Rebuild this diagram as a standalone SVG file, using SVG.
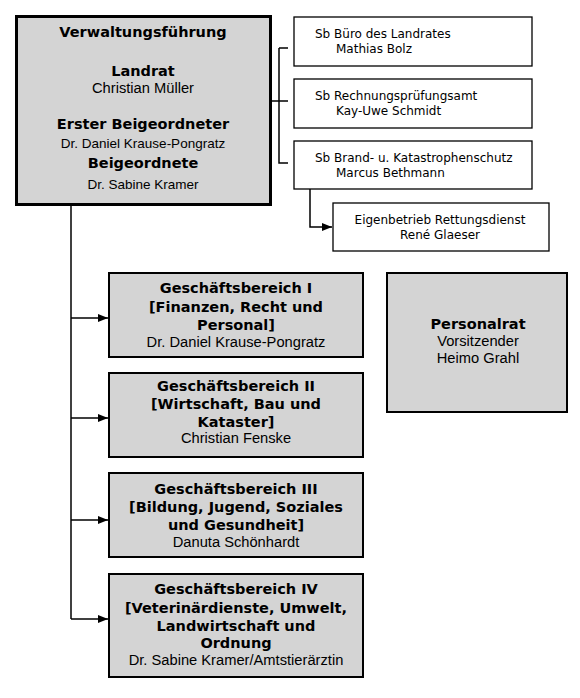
<svg xmlns="http://www.w3.org/2000/svg" width="580" height="698" viewBox="0 0 580 698">
<defs>
<marker id="arr" viewBox="0 0 10 10" refX="10" refY="5" markerWidth="10" markerHeight="10" markerUnits="userSpaceOnUse" orient="auto">
<path d="M0,1 L10,5 L0,9 z" fill="#000"/>
</marker>
<style>
.gray{fill:#d4d4d4;stroke:#000;stroke-width:2}
.white{fill:#fff;stroke:#000;stroke-width:1.3}
.b{font-family:"DejaVu Sans",Verdana,sans-serif;font-weight:bold;font-size:14.5px;fill:#000;text-anchor:middle}
.r{font-family:"Liberation Sans",Arial,sans-serif;font-size:14.7px;fill:#000;text-anchor:middle}
.s{font-size:13.5px}
.v{font-family:"DejaVu Sans",Verdana,sans-serif;font-size:12px;fill:#000}
.ln{fill:none;stroke:#000;stroke-width:1.5}
</style>
</defs>
<rect width="580" height="698" fill="#fff"/>
<g id="connectors">
<path class="ln" d="M279,48 H288 M279,48 V163 H288 M271,101 H288"/>
<path class="ln" d="M310,189 V227 H332" marker-end="url(#arr)"/>
<path class="ln" d="M71,206 V619"/>
<path class="ln" d="M71,318 H108" marker-end="url(#arr)"/>
<path class="ln" d="M71,418 H108" marker-end="url(#arr)"/>
<path class="ln" d="M71,520 H108" marker-end="url(#arr)"/>
<path class="ln" d="M71,619 H108" marker-end="url(#arr)"/>
</g>
<g id="verwaltung">
<rect x="16.5" y="16.5" width="254" height="188" fill="#d4d4d4" stroke="#000" stroke-width="3"/>
<text class="b" x="143" y="37">Verwaltungsführung</text>
<text class="b" x="143" y="76">Landrat</text>
<text class="r" x="143" y="93">Christian Müller</text>
<text class="b" x="143" y="129">Erster Beigeordneter</text>
<text class="r s" x="143" y="148">Dr. Daniel Krause-Pongratz</text>
<text class="b" x="143" y="168">Beigeordnete</text>
<text class="r s" x="143" y="189">Dr. Sabine Kramer</text>
</g>
<g id="sb-buero">
<rect class="white" x="294" y="17" width="238" height="49"/>
<text class="v" x="315" y="38">Sb Büro des Landrates</text>
<text class="v" x="336" y="53">Mathias Bolz</text>
</g>
<g id="sb-rpa">
<rect class="white" x="294" y="79" width="238" height="49"/>
<text class="v" x="315" y="100">Sb Rechnungsprüfungsamt</text>
<text class="v" x="336" y="115">Kay-Uwe Schmidt</text>
</g>
<g id="sb-brand">
<rect class="white" x="294" y="141" width="238" height="48"/>
<text class="v" x="315" y="162">Sb Brand- u. Katastrophenschutz</text>
<text class="v" x="336" y="177">Marcus Bethmann</text>
</g>
<g id="rettungsdienst">
<rect class="white" x="333" y="203" width="216" height="48"/>
<text class="v" x="440" y="224" text-anchor="middle">Eigenbetrieb Rettungsdienst</text>
<text class="v" x="440" y="239" text-anchor="middle">René Glaeser</text>
</g>
<g id="gb1">
<rect class="gray" x="109" y="273" width="254" height="84"/>
<text class="b" x="236" y="293">Geschäftsbereich I</text>
<text class="b" x="236" y="312">[Finanzen, Recht und</text>
<text class="b" x="236" y="330">Personal]</text>
<text class="r" x="236" y="347">Dr. Daniel Krause-Pongratz</text>
</g>
<g id="gb2">
<rect class="gray" x="109" y="373" width="254" height="84"/>
<text class="b" x="236" y="391">Geschäftsbereich II</text>
<text class="b" x="236" y="409">[Wirtschaft, Bau und</text>
<text class="b" x="236" y="427">Kataster]</text>
<text class="r" x="236" y="443">Christian Fenske</text>
</g>
<g id="gb3">
<rect class="gray" x="109" y="473" width="254" height="84"/>
<text class="b" x="236" y="494">Geschäftsbereich III</text>
<text class="b" x="236" y="512">[Bildung, Jugend, Soziales</text>
<text class="b" x="236" y="530">und Gesundheit]</text>
<text class="r" x="236" y="547">Danuta Schönhardt</text>
</g>
<g id="gb4">
<rect class="gray" x="109" y="574" width="254" height="103"/>
<text class="b" x="236" y="594">Geschäftsbereich IV</text>
<text class="b" x="236" y="613">[Veterinärdienste, Umwelt,</text>
<text class="b" x="236" y="631">Landwirtschaft und</text>
<text class="b" x="236" y="648">Ordnung</text>
<text class="r" x="236" y="665">Dr. Sabine Kramer/Amtstierärztin</text>
</g>
<g id="personalrat">
<rect class="gray" x="387" y="273" width="180" height="139"/>
<text class="b" x="478" y="329">Personalrat</text>
<text class="r" x="478" y="346">Vorsitzender</text>
<text class="r" x="478" y="363">Heimo Grahl</text>
</g>
</svg>
